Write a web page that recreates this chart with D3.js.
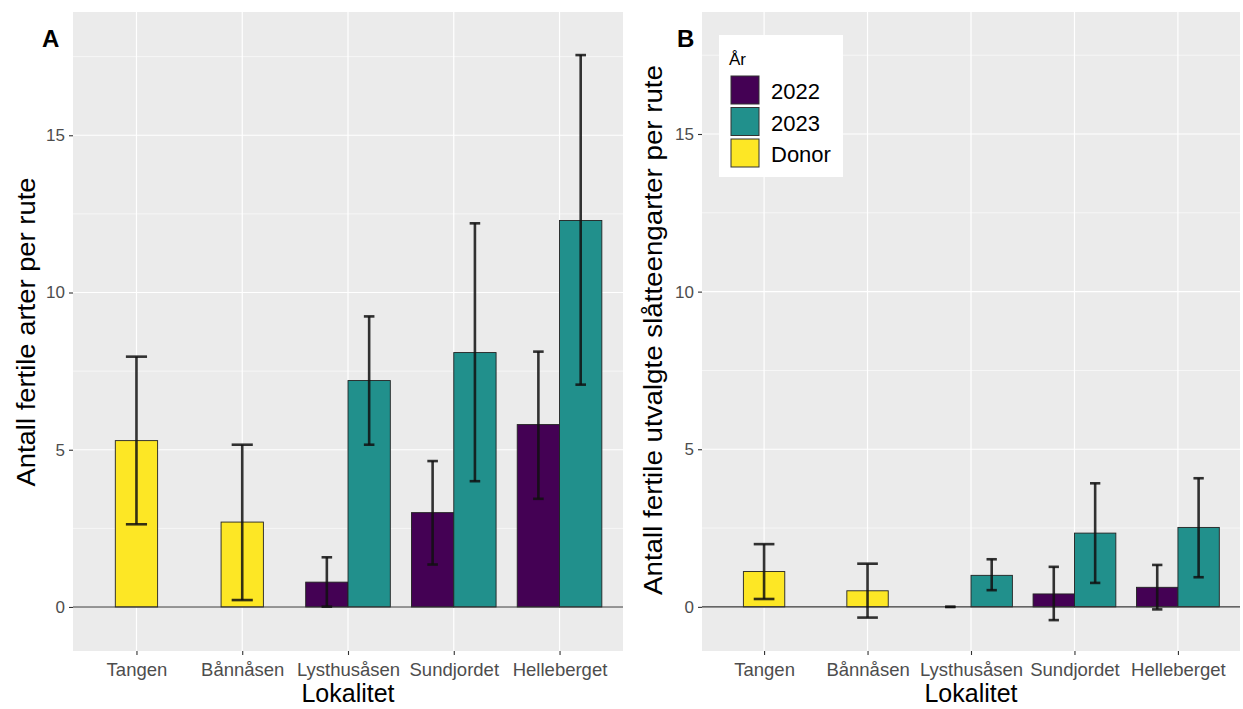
<!DOCTYPE html>
<html>
<head>
<meta charset="utf-8">
<script src="https://cdn.jsdelivr.net/npm/d3@7"></script>
<style>
  body { margin: 0; background: #fff; }
  text { font-family: Arial, "Liberation Sans", sans-serif; }
</style>
</head>
<body>
<svg id="chart" width="1243" height="709"></svg>
<script>
const localities = ["Tangen", "Bånnåsen", "Lysthusåsen", "Sundjordet", "Helleberget"];
const years = ["2022", "2023", "Donor"];
const yearColors = ["#440154", "#21908C", "#FDE725"];
const yTicks = [0, 5, 10, 15];
const yMinor = [2.5, 7.5, 12.5, 17.5];

// panel A: Antall fertile arter per rute
const aLok  = ["Tangen", "Bånnåsen", "Lysthusåsen", "Lysthusåsen", "Sundjordet", "Sundjordet", "Helleberget", "Helleberget"];
const aYear = ["Donor", "Donor", "2022", "2023", "2022", "2023", "2022", "2023"];
const aMean = [5.29, 2.70, 0.79, 7.20, 3.00, 8.09, 5.80, 12.29];
const aLow  = [2.63, 0.22, 0.01, 5.16, 1.35, 4.00, 3.44, 7.07];
const aHigh = [7.96, 5.16, 1.58, 9.24, 4.64, 12.20, 8.12, 17.55];

// panel B: Antall fertile utvalgte slåtteengarter per rute
const bLok  = ["Tangen", "Bånnåsen", "Lysthusåsen", "Lysthusåsen", "Sundjordet", "Sundjordet", "Helleberget", "Helleberget"];
const bYear = ["Donor", "Donor", "2022", "2023", "2022", "2023", "2022", "2023"];
const bMean = [1.12, 0.51, 0.00, 1.00, 0.41, 2.34, 0.62, 2.52];
const bLow  = [0.25, -0.34, 0.00, 0.53, -0.42, 0.76, -0.08, 0.94];
const bHigh = [1.99, 1.37, 0.00, 1.51, 1.27, 3.92, 1.33, 4.08];

const svg = d3.select("#chart");
const color = d3.scaleOrdinal().domain(years).range(yearColors);

function drawPanel(opts) {
    const rows = opts.lok.map((l, i) => ({
        lok: l, year: opts.year[i], mean: opts.mean[i], low: opts.low[i], high: opts.high[i]
    }));

    const x = d3.scaleLinear().domain([0.4, localities.length + 0.6]).range([opts.left, opts.right]);
    const y = d3.scaleLinear().domain(opts.yDomain).range([opts.bottom, opts.top]);

    // dodge inside each locality
    rows.forEach(d => {
        const grp = rows.filter(r => r.lok === d.lok);
        const n = grp.length;
        const k = grp.indexOf(d);
        const pos = localities.indexOf(d.lok) + 1;
        d.cx = pos + (k - (n - 1) / 2) * 0.4;
        d.cap = 0.2 / n;
    });

    const g = svg.append("g");

    g.append("rect")
        .attr("x", opts.left).attr("y", opts.top)
        .attr("width", opts.right - opts.left).attr("height", opts.bottom - opts.top)
        .attr("fill", "#EBEBEB");

    g.selectAll(".minor").data(yMinor).enter().append("line")
        .attr("x1", opts.left).attr("x2", opts.right)
        .attr("y1", d => y(d)).attr("y2", d => y(d))
        .attr("stroke", "#fff").attr("stroke-width", 0.6);

    g.selectAll(".major").data(yTicks).enter().append("line")
        .attr("x1", opts.left).attr("x2", opts.right)
        .attr("y1", d => y(d)).attr("y2", d => y(d))
        .attr("stroke", "#fff").attr("stroke-width", 1.2);

    g.selectAll(".vgrid").data(localities).enter().append("line")
        .attr("x1", (d, i) => x(i + 1)).attr("x2", (d, i) => x(i + 1))
        .attr("y1", opts.top).attr("y2", opts.bottom)
        .attr("stroke", "#fff").attr("stroke-width", 1.2);

    // bars
    g.selectAll(".bar").data(rows).enter().append("rect")
        .attr("x", d => x(d.cx - 0.2))
        .attr("width", x(0.4) - x(0))
        .attr("y", d => y(Math.max(d.mean, 0)))
        .attr("height", d => Math.abs(y(0) - y(d.mean)))
        .attr("fill", d => color(d.year))
        .attr("stroke", "#222").attr("stroke-width", 0.9);

    // zero line
    g.append("line")
        .attr("x1", opts.left).attr("x2", opts.right)
        .attr("y1", y(0)).attr("y2", y(0))
        .attr("stroke", "#333").attr("stroke-width", 1.1);

    // error bars
    const eb = g.selectAll(".err").data(rows).enter().append("g")
        .attr("stroke", "#111").attr("stroke-opacity", 0.85).attr("stroke-width", 2.6);
    eb.append("line")
        .attr("x1", d => x(d.cx)).attr("x2", d => x(d.cx))
        .attr("y1", d => y(d.low)).attr("y2", d => y(d.high));
    eb.append("line")
        .attr("x1", d => x(d.cx - d.cap / 2)).attr("x2", d => x(d.cx + d.cap / 2))
        .attr("y1", d => y(d.high)).attr("y2", d => y(d.high));
    eb.append("line")
        .attr("x1", d => x(d.cx - d.cap / 2)).attr("x2", d => x(d.cx + d.cap / 2))
        .attr("y1", d => y(d.low)).attr("y2", d => y(d.low));

    // axes
    const yAxis = g.append("g")
        .attr("transform", `translate(${opts.left},0)`)
        .call(d3.axisLeft(y).tickValues(yTicks).tickSize(4).tickPadding(4));
    yAxis.select(".domain").remove();
    yAxis.selectAll(".tick line").attr("stroke", "#333").attr("stroke-width", 1.1);
    yAxis.selectAll(".tick text").attr("fill", "#4D4D4D").style("font-size", "17px");

    const xAxis = g.append("g")
        .attr("transform", `translate(0,${opts.bottom})`)
        .call(d3.axisBottom(x).tickValues(d3.range(1, localities.length + 1))
            .tickFormat(d => localities[d - 1]).tickSize(4).tickPadding(8));
    xAxis.select(".domain").remove();
    xAxis.selectAll(".tick line").attr("stroke", "#333").attr("stroke-width", 1.1);
    xAxis.selectAll(".tick text").attr("fill", "#4D4D4D").style("font-size", "18.5px");

    // titles
    g.append("text")
        .attr("x", (opts.left + opts.right) / 2).attr("y", 702)
        .attr("text-anchor", "middle").style("font-size", "25px").attr("fill", "#000")
        .text("Lokalitet");

    g.append("text")
        .attr("transform", `translate(${opts.yTitleX},${opts.yTitleMid}) rotate(-90)`)
        .attr("text-anchor", "middle").style("font-size", "26px").attr("fill", "#000")
        .attr("textLength", opts.yTitleLen).attr("lengthAdjust", "spacingAndGlyphs")
        .text(opts.yTitle);

    g.append("text")
        .attr("x", opts.tagX).attr("y", 47)
        .style("font-size", "24px").style("font-weight", "bold").attr("fill", "#000")
        .text(opts.tag);
}

drawPanel({
    lok: aLok, year: aYear, mean: aMean, low: aLow, high: aHigh,
    left: 73, right: 623, top: 12, bottom: 651, yDomain: [-1.40, 18.92],
    yTitle: "Antall fertile arter per rute", yTitleX: 35, yTitleMid: 332, yTitleLen: 309,
    tag: "A", tagX: 42
});

drawPanel({
    lok: bLok, year: bYear, mean: bMean, low: bLow, high: bHigh,
    left: 702, right: 1240, top: 12, bottom: 651, yDomain: [-1.40, 18.87],
    yTitle: "Antall fertile utvalgte slåtteengarter per rute", yTitleX: 662, yTitleMid: 330, yTitleLen: 530,
    tag: "B", tagX: 677
});

// legend
const lg = svg.append("g").attr("transform", "translate(719,35)");
lg.append("rect").attr("width", 124).attr("height", 142).attr("fill", "#fff");
lg.append("text").attr("x", 10).attr("y", 30).style("font-size", "17px").attr("fill", "#000").text("År");
const items = lg.selectAll(".item").data(years).enter().append("g")
    .attr("transform", (d, i) => `translate(12,${41 + i * 31.5})`);
items.append("rect").attr("width", 28).attr("height", 28)
    .attr("fill", d => color(d)).attr("stroke", "#333").attr("stroke-width", 1);
items.append("text").attr("x", 40).attr("y", 23)
    .style("font-size", "22px").attr("fill", "#000").text(d => d);
</script>
</body>
</html>
